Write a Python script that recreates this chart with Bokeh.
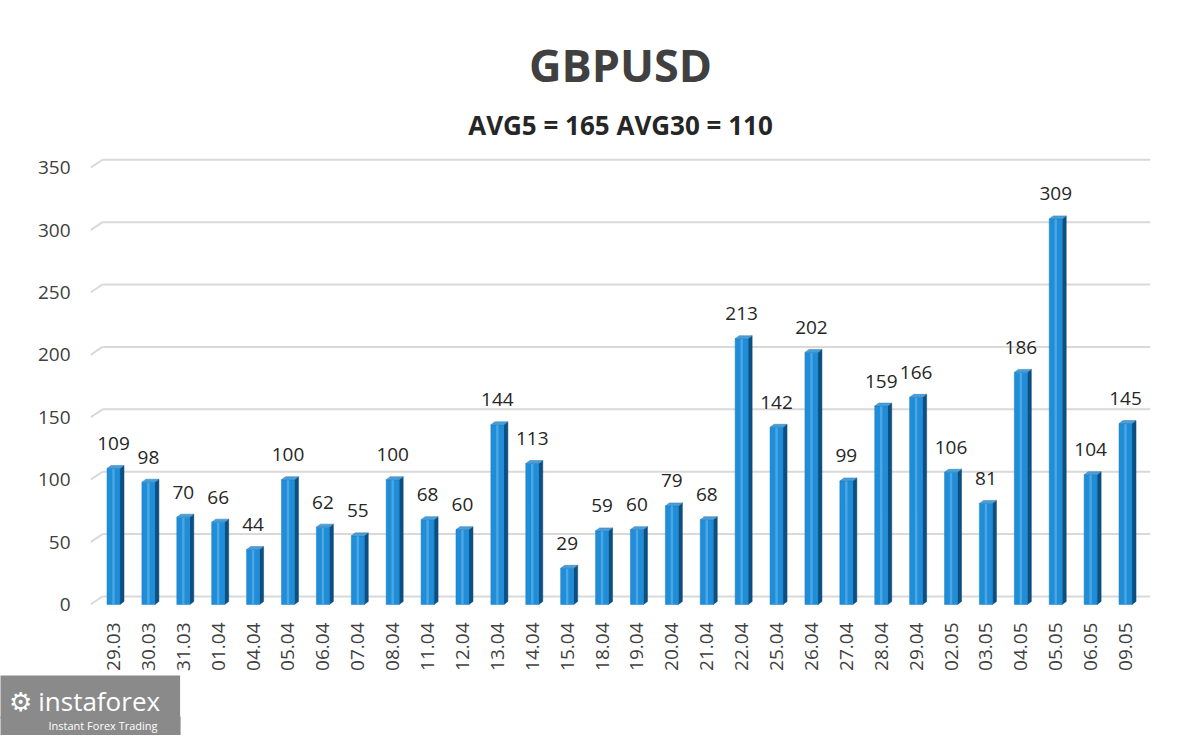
import math
from bokeh.plotting import figure
from bokeh.models import ColumnDataSource, Range1d, FixedTicker, Title
from bokeh.core.properties import value
from bokeh.embed import file_html
from bokeh.resources import INLINE

# ---- data ----
dates = ["29.03", "30.03", "31.03", "01.04", "04.04", "05.04", "06.04", "07.04",
         "08.04", "11.04", "12.04", "13.04", "14.04", "15.04", "18.04", "19.04",
         "20.04", "21.04", "22.04", "25.04", "26.04", "27.04", "28.04", "29.04",
         "02.05", "03.05", "04.05", "05.05", "06.05", "09.05"]
values = [109, 98, 70, 66, 44, 100, 62, 55, 100, 68, 60, 144, 113, 29, 59, 60,
          79, 68, 213, 142, 202, 99, 159, 166, 106, 81, 186, 309, 104, 145]
y_ticks = [0, 50, 100, 150, 200, 250, 300, 350]
title_text = "GBPUSD"
subtitle_text = "AVG5 = 165 AVG30 = 110"
logo_text = "\u2699 instaforex"
logo_sub_text = "Instant Forex Trading"

FONT = "Open Sans"

# ---- geometry (style) ----
front_half = 0.186      # half width of the bar front face (x units)
side_w = 0.115          # depth of the 3D side (x units)
depth_y = 2.4           # depth of the 3D cap (y units)
wall_dx = 0.344         # horizontal depth of the back wall (x units)
wall_dy = 6.4           # vertical depth of the back wall (y units)

p = figure(title=None, width=1184, height=733, frame_width=1060, frame_height=460,
           min_border_left=90, min_border_right=34, min_border_top=152,
           min_border_bottom=121, output_backend="svg", toolbar_location=None,
           x_range=Range1d(-0.659, 29.716), y_range=Range1d(-6.41, 362.2),
           background_fill_color="white", border_fill_color="white")
p.outline_line_color = None
p.xgrid.grid_line_color = None
p.ygrid.grid_line_color = None

# back-wall grid lines with perspective stubs
x0 = p.x_range.start
xw = x0 + wall_dx
x1 = p.x_range.end
grid_src = ColumnDataSource(dict(
    y=y_ticks,
    yb=[t + wall_dy for t in y_ticks],
    x0=[x0] * len(y_ticks),
    xw=[xw] * len(y_ticks),
    x1=[x1] * len(y_ticks),
))
p.segment(x0="xw", y0="yb", x1="x1", y1="yb", source=grid_src,
          line_color="#d9d9d9", line_width=2)
p.segment(x0="x0", y0="y", x1="xw", y1="yb", source=grid_src,
          line_color="#d9d9d9", line_width=2)

# bars
idx = list(range(len(values)))
side_xs, side_ys, cap_xs, cap_ys = [], [], [], []
for i, v in zip(idx, values):
    r = i + front_half
    l = i - front_half
    side_xs.append([r, r + side_w, r + side_w, r])
    side_ys.append([0, depth_y, v + depth_y, v])
    cap_xs.append([l, l + side_w, r + side_w, r])
    cap_ys.append([v, v + depth_y, v + depth_y, v])

src = ColumnDataSource(dict(x=idx, top=values, label=[str(v) for v in values]))
p.patches(xs=side_xs, ys=side_ys, fill_color="#0c4f82", line_color="#0a446f",
          line_width=0.5)
p.vbar(x="x", top="top", bottom=0, width=2 * front_half, source=src,
       fill_color="#1f8dd8", line_color="#1a7fc4", line_width=0.5)
p.vbar(x="x", top="top", bottom=0, width=0.07, source=src,
       fill_color="#56ade6", line_color=None, fill_alpha=0.8)
p.patches(xs=cap_xs, ys=cap_ys, fill_color="#4a9fd9", line_color="#2f7db5",
          line_width=0.5)

# value labels
p.text(x="x", y="top", text="label", source=src, text_align="center",
       text_baseline="middle", y_offset=-25, text_font=value(FONT),
       text_font_size="19px", text_color="#262626")

# axes
p.xaxis.ticker = FixedTicker(ticks=idx)
p.xaxis.major_label_overrides = {i: d for i, d in zip(idx, dates)}
p.xaxis.major_label_orientation = math.pi / 2
p.yaxis.ticker = FixedTicker(ticks=y_ticks)
for ax in (p.xaxis, p.yaxis):
    ax.axis_line_color = None
    ax.major_tick_line_color = None
    ax.minor_tick_line_color = None
    ax.major_label_text_font = FONT
    ax.major_label_text_font_size = "19px"
    ax.major_label_text_color = "#404040"
    ax.major_tick_out = 0
    ax.major_tick_in = 0
p.xaxis.major_label_standoff = 10
p.yaxis.major_label_standoff = 20

# titles
p.add_layout(Title(text=subtitle_text, align="center", text_font=FONT,
                   text_font_size="26px", text_font_style="bold",
                   text_color="#262626", standoff=20), "above")
p.add_layout(Title(text=title_text, align="center", text_font=FONT,
                   text_font_size="45px", text_font_style="bold",
                   text_color="#404040", standoff=0), "above")

# logo (bottom-left)
has_pad = "padding" in Title.properties()
logo = Title(text=logo_text, align="left", offset=-90, text_font=FONT,
             text_font_size="26px", text_font_style="normal", text_color="white",
             background_fill_color="#8a8a8a", standoff=0)
logo_sub = Title(text=logo_sub_text, align="left", offset=-90, text_font=FONT,
                 text_font_size="11px", text_font_style="normal",
                 text_color="white", background_fill_color="#8a8a8a",
                 vertical_align="top", standoff=-4)
if has_pad:
    logo.padding = (8, 20, 7, 0)
    logo_sub.padding = (48, 23, 1, 3)
p.add_layout(logo, "below")
p.add_layout(logo_sub, "below")

open("out.html", "w").write(file_html(p, INLINE))
